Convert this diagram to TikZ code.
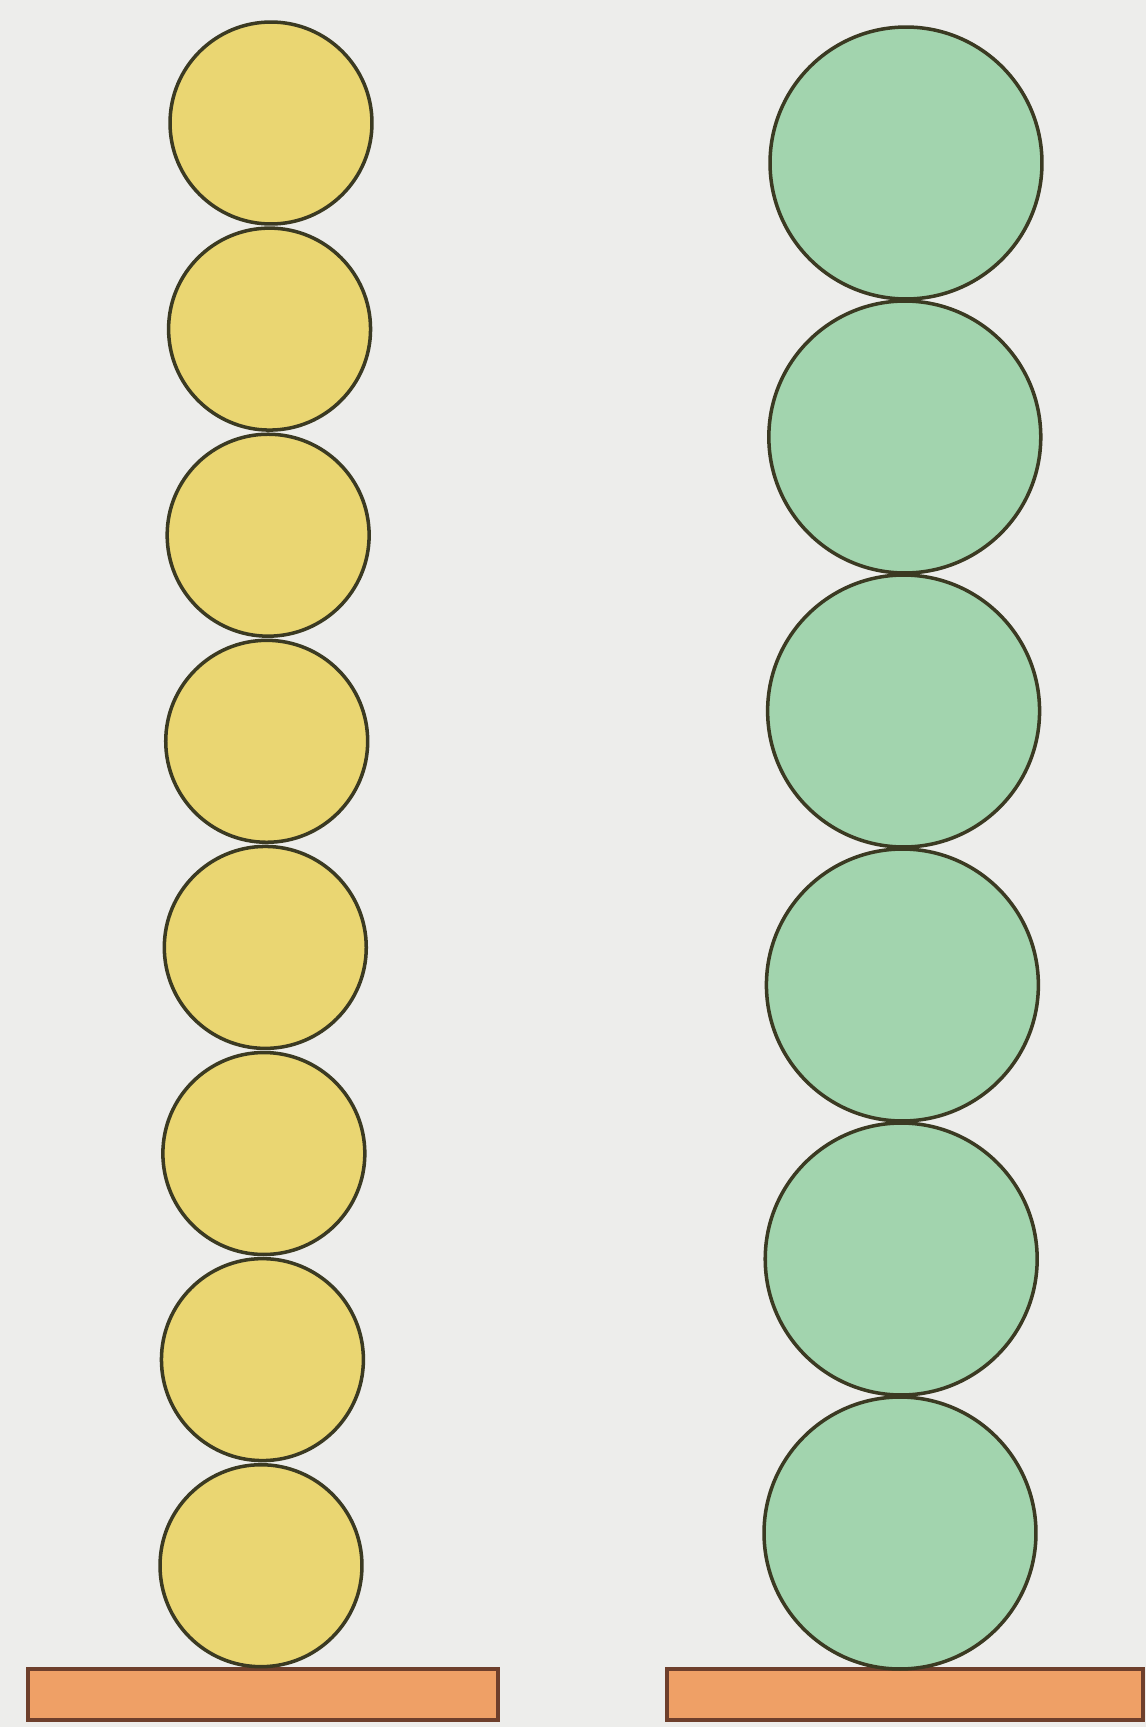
\documentclass[tikz,border=0pt]{standalone}
\usepackage{tikz}
\definecolor{paperbg}{HTML}{EDEDEB}
\definecolor{beadline}{HTML}{3B3A22}
\definecolor{beadyellow}{HTML}{EAD672}
\definecolor{beadgreen}{HTML}{A2D4AE}
\definecolor{baseorange}{HTML}{EFA066}
\definecolor{baseline}{HTML}{6E3F2C}

\begin{document}
\begin{tikzpicture}[x=0.02cm, y=-0.02cm,
    ybead/.style={circle, draw=beadline, line width=2pt, fill=beadyellow,
                  inner sep=0pt, minimum size=4.04cm},
    gbead/.style={circle, draw=beadline, line width=2pt, fill=beadgreen,
                  inner sep=0pt, minimum size=5.44cm},
    basebar/.style={draw=baseline, line width=2pt, fill=baseorange}]
  % page, in pixel units of the reference (y grows downwards)
  \fill[paperbg] (0,0) rectangle (1146,1727);
  \useasboundingbox (0,0) rectangle (1146,1727);

  % the two floor bars
  \draw[basebar] (28,1669) rectangle (498,1720);
  \draw[basebar] (667,1669) rectangle (1143,1720);

  % left tower: eight small beads, leaning a little
  \foreach \i in {0,...,7}
    \node[ybead] (ybead\i) at ({271-10*\i/7}, {123+206.1*\i}) {};

  % right tower: six big beads
  \foreach \i in {0,...,5}
    \node[gbead] (gbead\i) at ({906-6*\i/5}, {163+274*\i}) {};
\end{tikzpicture}
\end{document}
